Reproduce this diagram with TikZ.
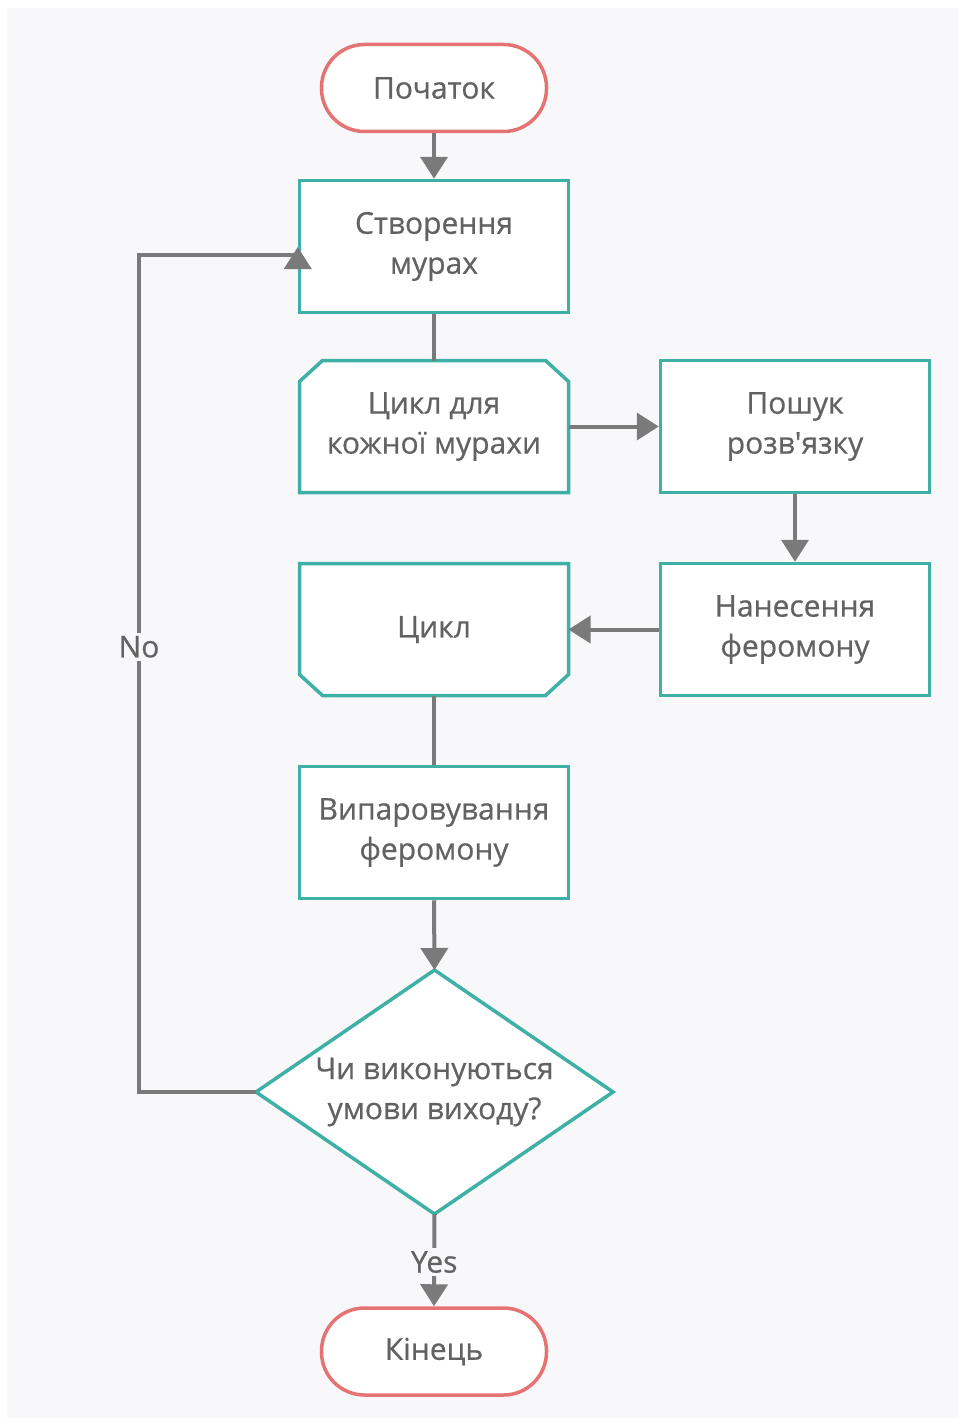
\documentclass[tikz,border=0pt]{standalone}
\usepackage{fontspec}
\newfontfamily\labelfont{Open Sans}[FakeBold=0.6]
\usetikzlibrary{arrows.meta}
\definecolor{panel}{HTML}{F8F8FA}
\definecolor{teal}{HTML}{3FB0A6}
\definecolor{coral}{HTML}{E57373}
\definecolor{ink}{HTML}{626262}
\definecolor{wire}{HTML}{7A7A7A}
\tikzset{
  x=1pt, y=-1pt,
  every node/.style={font=\labelfont\fontsize{30}{40}\selectfont, text=ink, align=center},
  terminal/.style={draw=coral, line width=3.5pt, fill=white, rectangle,
    rounded corners=43pt, minimum width=225pt, minimum height=87pt},
  process/.style={draw=teal, line width=3.5pt, fill=white, rectangle,
    minimum width=269pt, minimum height=132pt},
  loopbox/.style={rectangle, outer sep=0pt,
    minimum width=269pt, minimum height=132pt},
  outline/.style={draw=teal, line width=3.5pt, fill=white, line join=miter},
  link/.style={draw=wire, line width=4pt},
  flow/.style={link, -{Triangle[length=22pt,width=27pt]}},
  tag/.style={fill=panel, inner sep=3pt}
}
\begin{document}
\begin{tikzpicture}
  % page and panel
  \useasboundingbox (0,0) rectangle (958,1418);
  \fill[white] (0,0) rectangle (958,1418);
  \fill[panel] (7,8) rectangle (958,1418);

  % loop limit boxes: placed first, outlined below
  \node[loopbox] (each) at (434,426.5) {};
  \node[loopbox] (loop) at (434,629.5) {};
  \draw[outline] ([yshift=-21pt]each.north west) -- ([xshift=23pt]each.north west)
      -- ([xshift=-23pt]each.north east) -- ([yshift=-21pt]each.north east)
      -- (each.south east) -- (each.south west) -- cycle;
  \draw[outline] (loop.north west) -- (loop.north east)
      -- ([yshift=21pt]loop.south east) -- ([xshift=-23pt]loop.south east)
      -- ([xshift=23pt]loop.south west) -- ([yshift=21pt]loop.south west) -- cycle;
  \node at (each.center) {Цикл для\\кожної мурахи};
  \node at (loop.center) {Цикл};

  % decision diamond corners
  \coordinate (checkN) at (434.5,970);
  \coordinate (checkE) at (613,1092);
  \coordinate (checkS) at (434.5,1214);
  \coordinate (checkW) at (256,1092);
  \draw[outline] (checkN) -- (checkE) -- (checkS) -- (checkW) -- cycle;

  % nodes
  \node[terminal]  (start)  at (434,88)     {Початок};
  \node[process]   (create) at (434,246.5)  {Створення\\мурах};
  \node[process]   (search) at (795,426.5)  {Пошук\\розв'язку};
  \node[process]   (lay)    at (795,629.5)  {Нанесення\\феромону};
  \node[process]   (evap)   at (434,832.5)  {Випаровування\\феромону};
  \node            (check)  at (434.5,1092) {Чи виконуються\\умови виходу?};
  \node[terminal]  (finish) at (434,1351.5) {Кінець};

  \coordinate (turn) at (139,255);

  % connectors
  \draw[flow] (start) -- (create);
  \draw[link] (create) -- (each.north);
  \draw[flow] (each.east) -- (search.west);
  \draw[flow] (search) -- (lay);
  \draw[flow] (lay.west) -- (loop.east);
  \draw[link] (loop.south) -- (evap);
  \draw[flow] (evap.south) -- (checkN);
  \draw[flow] (checkS) -- node[tag, pos=0.52] {Yes} (finish.north);
  \draw[flow] (checkW) -- (checkW -| turn)
      -- node[tag, pos=0.532] {No} (turn)
      -- (create.west |- turn) -- ++(0,-8);
\end{tikzpicture}
\end{document}
